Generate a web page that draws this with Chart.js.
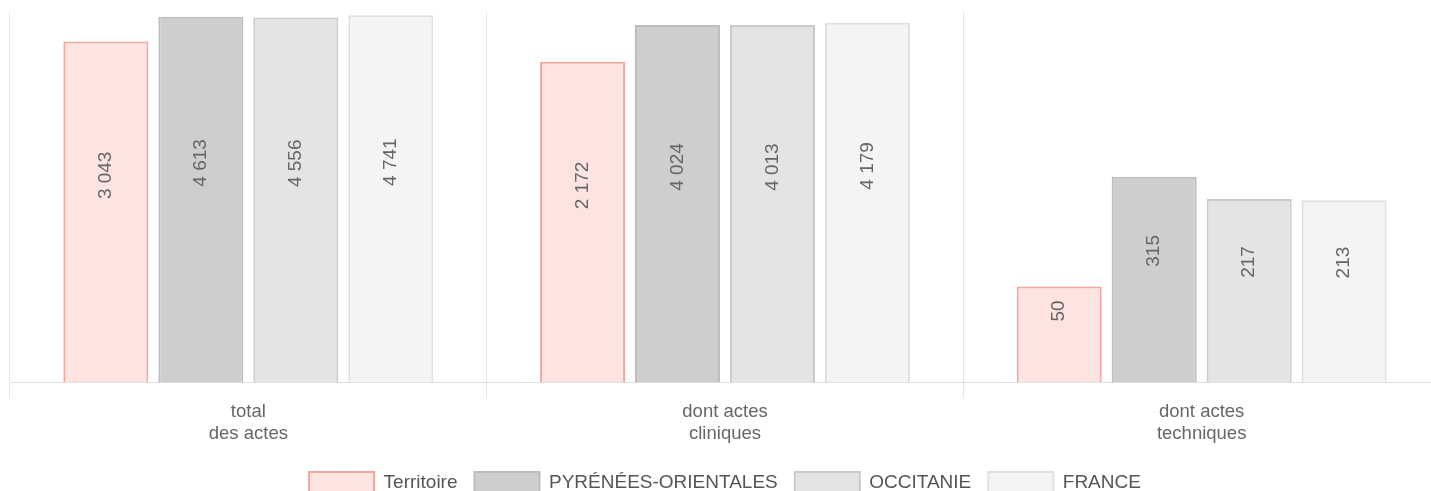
<!DOCTYPE html>
<html>
<head>
<meta charset="utf-8">
<script src="https://cdn.jsdelivr.net/npm/chart.js@4/dist/chart.umd.min.js"></script>
<style>
    html, body { margin: 0; padding: 0; background: #fff; overflow: hidden; }
    #wrap { position: relative; width: 1450px; height: 504px; }
</style>
</head>
<body>
<div id="wrap"><canvas id="chart"></canvas></div>
<script>
// Données
const categories = [['total', 'des actes'], ['dont actes', 'cliniques'], ['dont actes', 'techniques']];
const territoire = [3043, 2172, 50];
const pyreneesOrientales = [4613, 4024, 315];
const occitanie = [4556, 4013, 217];
const france = [4741, 4179, 213];

const FONT = "'Liberation Sans', Arial, sans-serif";

Chart.defaults.font.family = FONT;
Chart.defaults.color = '#666';

const COLORS = {
    territoire: { fill: '#fde4e1', border: '#f6a59d' },
    pyrenees: { fill: '#cecece', border: '#bdbdbd' },
    occitanie: { fill: '#e4e4e4', border: '#cacaca' },
    france: { fill: '#f4f4f4', border: '#e0e0e0' }
};

function formatNumber(v) {
    return String(v).replace(/\B(?=(\d{3})+(?!\d))/g, ' ');
}

function makeDataset(label, data, color) {
    return {
        label,
        data,
        backgroundColor: color.fill,
        borderColor: color.border,
        borderWidth: 2,
        barPercentage: 0.895,
        categoryPercentage: 0.797
    };
}

// Étiquettes verticales dans les barres
const barLabels = {
    id: 'barLabels',
    afterDatasetsDraw(chart) {
        const { ctx } = chart;
        ctx.save();
        ctx.font = '19px ' + FONT;
        ctx.fillStyle = '#666';
        ctx.textAlign = 'left';
        ctx.textBaseline = 'middle';
        chart.data.datasets.forEach((ds, i) => {
            chart.getDatasetMeta(i).data.forEach((bar, j) => {
                const mid = (bar.y + bar.base) / 2;
                ctx.save();
                ctx.translate(bar.x, mid - 13);
                ctx.rotate(-Math.PI / 2);
                ctx.fillText(formatNumber(ds.data[j]), 0, 0);
                ctx.restore();
            });
        });
        ctx.restore();
    }
};

new Chart(document.getElementById('chart').getContext('2d'), {
    type: 'bar',
    data: {
        labels: categories,
        datasets: [
            makeDataset('Territoire', territoire, COLORS.territoire),
            makeDataset('PYRÉNÉES-ORIENTALES', pyreneesOrientales, COLORS.pyrenees),
            makeDataset('OCCITANIE', occitanie, COLORS.occitanie),
            makeDataset('FRANCE', france, COLORS.france)
        ]
    },
    options: {
        responsive: true,
        maintainAspectRatio: false,
        animation: false,
        layout: {
            padding: { left: 10, right: 10, top: 12, bottom: 0 }
        },
        plugins: {
            legend: {
                position: 'bottom',
                labels: {
                    boxWidth: 65,
                    boxHeight: 22,
                    padding: 17,
                    color: '#555',
                    font: { size: 19 }
                }
            },
            tooltip: { enabled: false }
        },
        scales: {
            x: {
                grid: {
                    color: '#e6e6e6',
                    tickLength: 16
                },
                border: { color: '#e0e0e0' },
                ticks: {
                    color: '#666',
                    font: { size: 18.5 },
                    padding: 2
                },
                afterFit(scale) {
                    scale.height += 8;
                }
            },
            y: {
                type: 'logarithmic',
                min: 10,
                max: 5000,
                display: false
            }
        }
    },
    plugins: [barLabels]
});
</script>
</body>
</html>
